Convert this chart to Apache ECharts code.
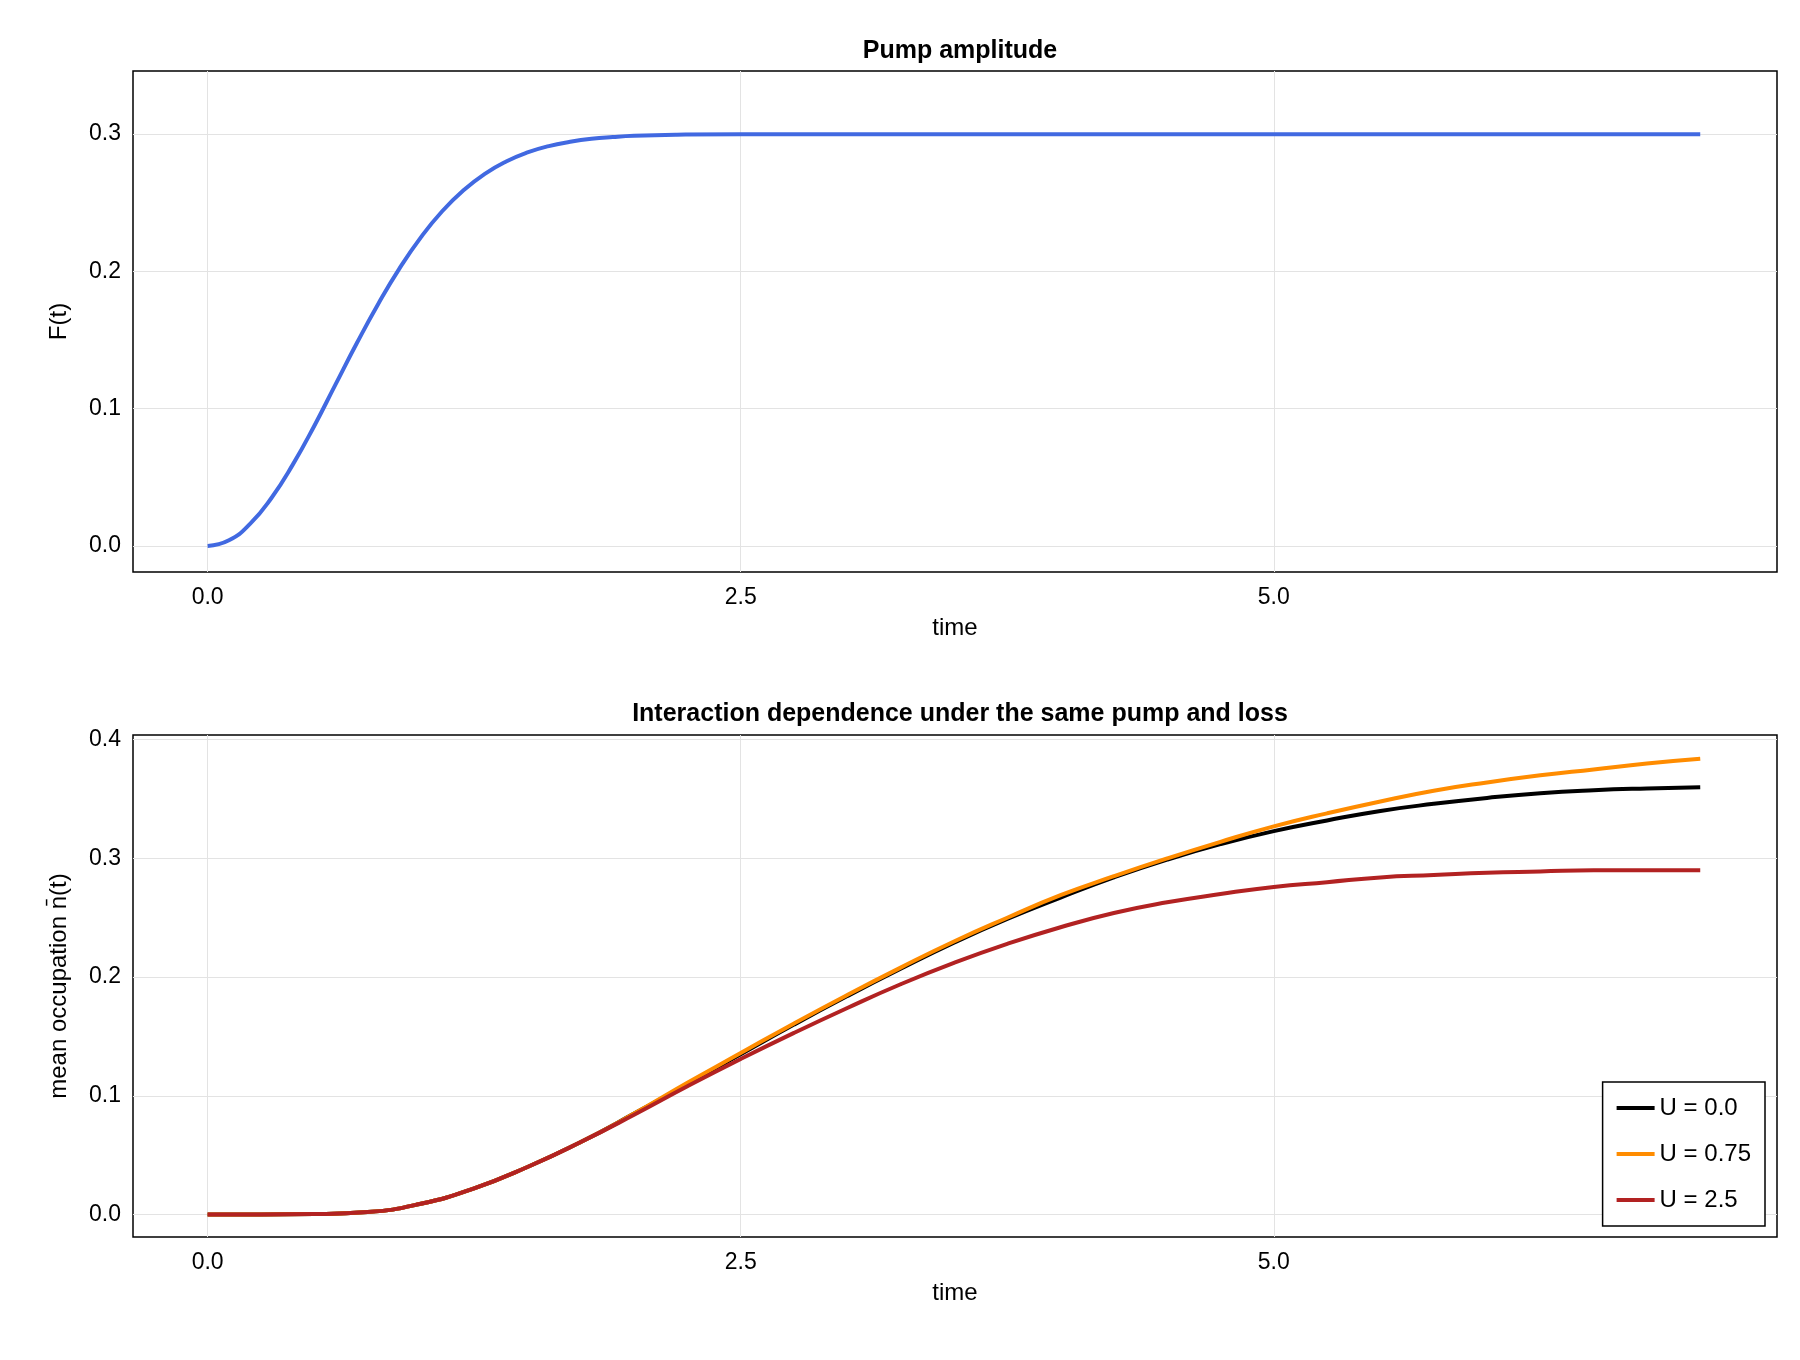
<!DOCTYPE html><html><head><meta charset="utf-8"><script src="https://cdn.jsdelivr.net/npm/echarts@6/dist/echarts.min.js"></script></head><body style="margin:0;background:#fff"><div id="c" style="width:1800px;height:1360px"></div><script>
const tPump=[0,0.1,0.2,0.3,0.4,0.5,0.6,0.7,0.8,0.9,1.0,1.1,1.2,1.3,1.4,1.5,1.6,1.7,1.8,1.9,2.0,2.2,2.5,3,4,5,6,7];
const fPump=[0,0.0041,0.0162,0.0351,0.0594,0.0874,0.1177,0.1478,0.1763,0.2022,0.2248,0.2438,0.2591,0.2711,0.2801,0.2867,0.2913,0.2944,0.2966,0.2979,0.2988,0.2996,0.3,0.3,0.3,0.3,0.3,0.3];
const tOcc=[0,0.25,0.5,0.75,1.0,1.25,1.5,1.75,2.0,2.25,2.5,2.75,3.0,3.25,3.5,3.75,4.0,4.25,4.5,4.75,5.0,5.25,5.5,5.75,6.0,6.25,6.5,6.75,7.0];
const nU0=[0,0,0.0003,0.002,0.009,0.022,0.040,0.061,0.085,0.110,0.135,0.160,0.184,0.207,0.229,0.249,0.267,0.284,0.299,0.312,0.323,0.332,0.340,0.346,0.351,0.355,0.3575,0.359,0.360];
const nU075=[0,0,0.0003,0.002,0.009,0.022,0.040,0.061,0.085,0.111,0.136,0.161,0.185,0.208,0.230,0.250,0.269,0.285,0.300,0.314,0.327,0.338,0.348,0.357,0.364,0.370,0.375,0.380,0.384];
const nU25=[0,0,0.0003,0.002,0.009,0.022,0.040,0.061,0.084,0.108,0.131,0.153,0.174,0.194,0.212,0.228,0.242,0.254,0.263,0.270,0.276,0.280,0.284,0.286,0.288,0.289,0.290,0.290,0.290];
const xTicks=[0,2.5,5], yTop=[0,0.1,0.2,0.3], yBot=[0,0.1,0.2,0.3,0.4];
const F='"Liberation Sans", Arial, sans-serif';
const zip=(a,b)=>a.map((v,i)=>[v,b[i]]);
function xa(i){return {type:'value',gridIndex:i,min:-0.35,max:7.36,name:'time',nameLocation:'middle',nameGap:44,nameTextStyle:{fontSize:24,fontFamily:F,color:'#000'},
 axisLine:{show:false},axisTick:{show:false,customValues:xTicks},axisLabel:{customValues:xTicks,fontSize:23,fontFamily:F,color:'#000',formatter:v=>v.toFixed(1),margin:14},
 splitLine:{show:true,lineStyle:{color:'#e3e3e3'}}};}
function ya(i,max,vals,name){return {type:'value',gridIndex:i,min:-0.019,max:max,name:name,nameLocation:'middle',nameGap:62,nameTextStyle:{fontSize:24,fontFamily:F,color:'#000'},
 axisLine:{show:false},axisTick:{show:false,customValues:vals},axisLabel:{customValues:vals,fontSize:23,fontFamily:F,color:'#000',formatter:v=>v.toFixed(1),margin:12},
 splitLine:{show:true,lineStyle:{color:'#e3e3e3'}}};}
const ch=echarts.init(document.getElementById('c'));
ch.setOption({animation:false,
 title:[{text:'Pump amplitude',left:955,top:34,textAlign:'center',textStyle:{fontSize:25,fontWeight:'bold',fontFamily:F,color:'#000'}},
  {text:'Interaction dependence under the same pump and loss',left:955,top:697,textAlign:'center',textStyle:{fontSize:25,fontWeight:'bold',fontFamily:F,color:'#000'}}],
 grid:[{left:133,right:23,top:71,height:501,show:true,borderColor:'#000',borderWidth:1.5,backgroundColor:'transparent'},
  {left:133,right:23,top:735,height:502,show:true,borderColor:'#000',borderWidth:1.5,backgroundColor:'transparent'}],
 xAxis:[xa(0),xa(1)],
 yAxis:[ya(0,0.346,yTop,'F(t)'),ya(1,0.404,yBot,'mean occupation n̄(t)')],
 legend:{data:['U = 0.0','U = 0.75','U = 2.5'],orient:'vertical',right:35,bottom:134,backgroundColor:'#fff',borderColor:'#000',borderWidth:1.5,padding:[14,14],itemGap:22,itemWidth:38,itemHeight:4,
  textStyle:{fontSize:24,fontFamily:F,color:'#000'},icon:'rect'},
 series:[
  {type:'line',xAxisIndex:0,yAxisIndex:0,data:zip(tPump,fPump),smooth:true,showSymbol:false,lineStyle:{color:'#4169e1',width:4},itemStyle:{color:'#4169e1'}},
  {name:'U = 0.0',type:'line',xAxisIndex:1,yAxisIndex:1,data:zip(tOcc,nU0),smooth:true,showSymbol:false,lineStyle:{color:'#000',width:4},itemStyle:{color:'#000'}},
  {name:'U = 0.75',type:'line',xAxisIndex:1,yAxisIndex:1,data:zip(tOcc,nU075),smooth:true,showSymbol:false,lineStyle:{color:'#ff8c00',width:4},itemStyle:{color:'#ff8c00'}},
  {name:'U = 2.5',type:'line',xAxisIndex:1,yAxisIndex:1,data:zip(tOcc,nU25),smooth:true,showSymbol:false,lineStyle:{color:'#b22222',width:4},itemStyle:{color:'#b22222'}}
 ]});
</script></body></html>
